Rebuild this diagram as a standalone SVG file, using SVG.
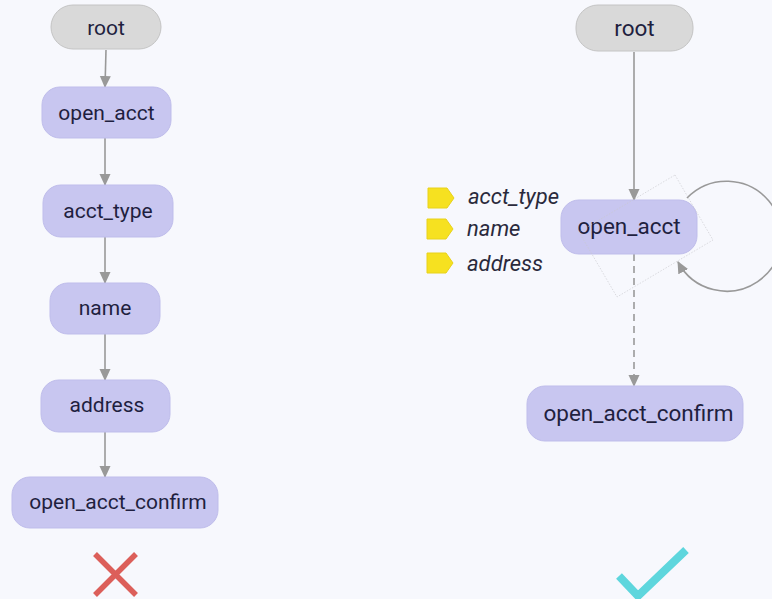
<svg xmlns="http://www.w3.org/2000/svg" width="772" height="599" viewBox="0 0 772 599">
<defs>
<style>
.bg{fill:#f7f8fd}
.root rect{fill:#d9d9d9;stroke:#c4c4c4;stroke-width:1}
.st rect{fill:#c8c6f0;stroke:#bfbdeb;stroke-width:1}
.lbl{font-family:Roboto,"Liberation Sans",sans-serif;fill:#1f1f3f;text-anchor:middle}
.l{font-size:21px}
.r{font-size:22.5px}
.edge{stroke:#999;stroke-width:1.6;fill:none}
.dash{stroke-dasharray:7 5}
.tag{fill:#f6e120;stroke:#e8d21a;stroke-width:1}
.slot{font-family:Roboto,"Liberation Sans",sans-serif;font-style:italic;font-size:22px;fill:#2a2a3c}
</style>
<marker id="ah" viewBox="0 0 12 12" refX="11" refY="6" markerWidth="12" markerHeight="12" markerUnits="userSpaceOnUse" orient="auto">
<path d="M0,0.5 L12,6 L0,11.5 Z" fill="#999"/>
</marker>
</defs>
<rect class="bg" x="0" y="0" width="772" height="599"/>

<g id="connectors">
<line class="edge" x1="106" y1="50" x2="105" y2="87" marker-end="url(#ah)"/>
<line class="edge" x1="105" y1="138" x2="105" y2="185" marker-end="url(#ah)"/>
<line class="edge" x1="105" y1="237" x2="105" y2="283" marker-end="url(#ah)"/>
<line class="edge" x1="105" y1="334" x2="105" y2="380" marker-end="url(#ah)"/>
<line class="edge" x1="105" y1="432" x2="105" y2="477" marker-end="url(#ah)"/>
<line class="edge" x1="634" y1="52" x2="634" y2="200" marker-end="url(#ah)"/>
<line class="edge dash" x1="634" y1="254" x2="634" y2="386" marker-end="url(#ah)"/>
<path class="edge" d="M 687 198 A 55 55 0 1 1 678 262" marker-end="url(#ah)"/>
</g>

<g id="left-root" class="root">
<rect x="51" y="5" width="110" height="44" rx="22"/>
<text class="lbl l" x="106" y="34.5">root</text>
</g>
<g id="left-open_acct" class="st">
<rect x="42" y="87" width="129" height="51" rx="18"/>
<text class="lbl l" x="106.5" y="120">open_acct</text>
</g>
<g id="left-acct_type" class="st">
<rect x="43" y="185" width="130" height="52" rx="18"/>
<text class="lbl l" x="108" y="218">acct_type</text>
</g>
<g id="left-name" class="st">
<rect x="50" y="283" width="110" height="51" rx="18"/>
<text class="lbl l" x="105" y="315">name</text>
</g>
<g id="left-address" class="st">
<rect x="41" y="380" width="129" height="52" rx="18"/>
<text class="lbl l" x="107" y="412">address</text>
</g>
<g id="left-open_acct_confirm" class="st">
<rect x="12" y="477" width="206" height="51" rx="18"/>
<text class="lbl l" x="118" y="509">open_acct_confirm</text>
</g>
<g id="cross">
<path d="M95 554 L136 595 M136 554 L95 595" stroke="#dc5f5a" stroke-width="5.5" fill="none"/>
</g>

<g id="right-root" class="root">
<rect x="576" y="5" width="117" height="46" rx="22"/>
<text class="lbl r" x="634.5" y="36">root</text>
</g>
<g id="right-open_acct" class="st">
<rect x="561" y="200" width="136" height="54" rx="18"/>
<text class="lbl r" x="629" y="234">open_acct</text>
</g>
<g id="focus-box">
<polygon points="675,175 713,240 617,297 579,232" fill="none" stroke="#c8c8cc" stroke-width="0.8" stroke-dasharray="1.5 1.5" opacity="0.8"/>
</g>
<g id="right-open_acct_confirm" class="st">
<rect x="527" y="386" width="216" height="55" rx="18"/>
<text class="lbl r" x="638.5" y="421">open_acct_confirm</text>
</g>
<g id="slots">
<path class="tag" d="M428 188 H447 L454 198 L447 208 H428 Z"/>
<text class="slot" x="468" y="204">acct_type</text>
<path class="tag" d="M427 219 H446 L453 229 L446 239 H427 Z"/>
<text class="slot" x="467" y="236">name</text>
<path class="tag" d="M427 253 H446 L453 263 L446 273 H427 Z"/>
<text class="slot" x="467" y="271">address</text>
</g>
<g id="check">
<path d="M619 576 L638 596 L686 550" stroke="#5ed6dd" stroke-width="8" fill="none"/>
</g>
</svg>
